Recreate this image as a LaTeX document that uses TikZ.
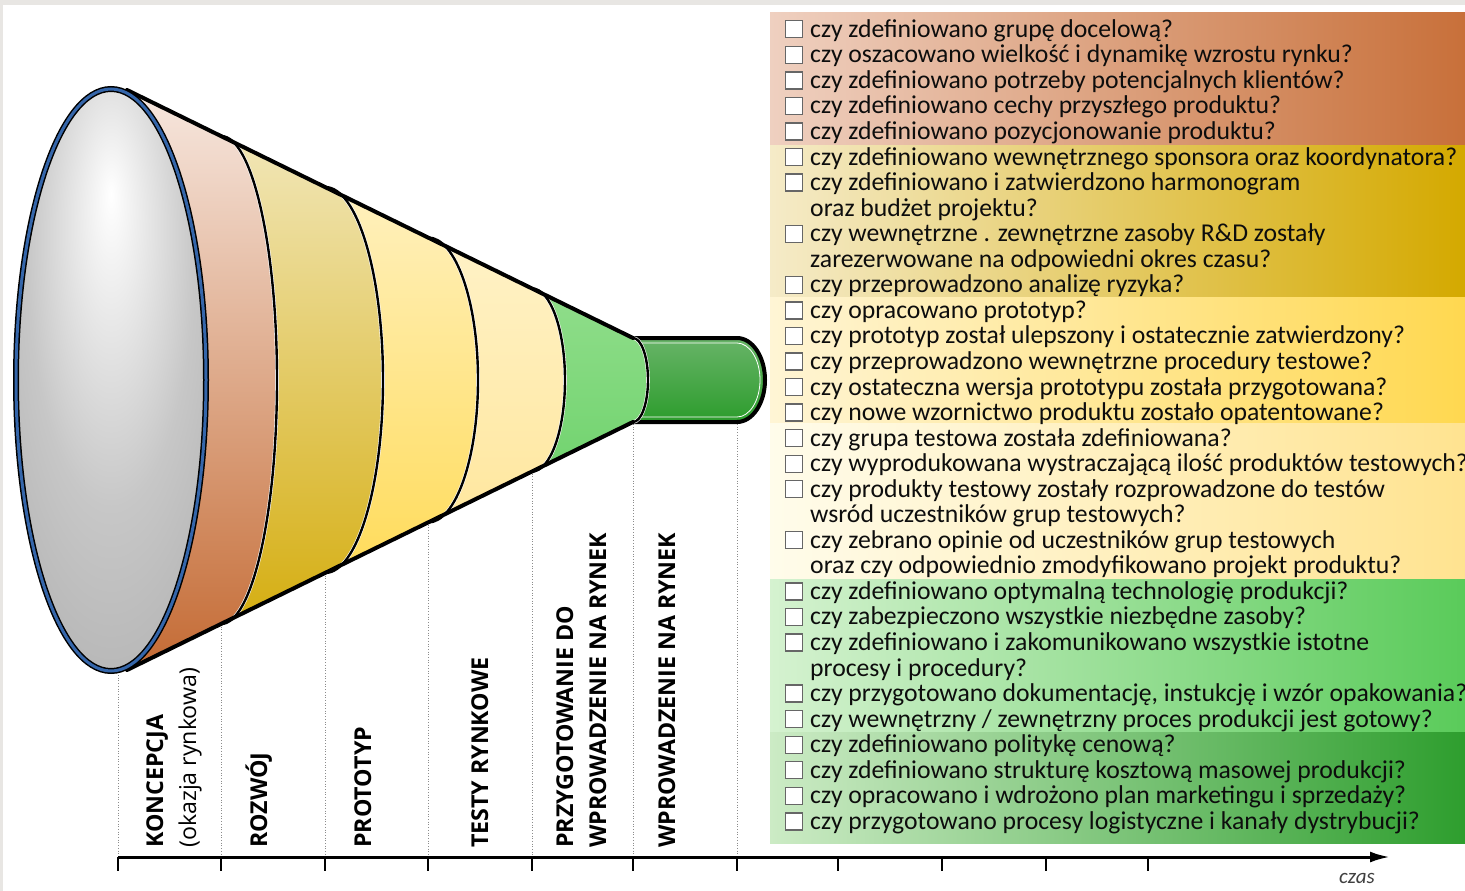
\documentclass[tikz,border=0pt]{standalone}
\usepackage{fontspec}
\setmainfont{Carlito}
\newfontfamily\stagefont{Open Sans}
\usetikzlibrary{arrows.meta}

\definecolor{frame}{HTML}{E8E6E3}
\definecolor{ringblue}{HTML}{3566AA}
\definecolor{peachtop}{HTML}{F7E8E0}
\definecolor{peachbot}{HTML}{C46A33}
\definecolor{goldtop}{HTML}{F4ECC8}
\definecolor{goldbot}{HTML}{D2A800}
\definecolor{yellowtop}{HTML}{FFF6D8}
\definecolor{yellowbot}{HTML}{FFD640}
\definecolor{palretop}{HTML}{FFF8DC}
\definecolor{palebot}{HTML}{FFE189}
\definecolor{greentop}{HTML}{B2E9AA}
\definecolor{greenbot}{HTML}{50C850}
\definecolor{pipetop}{HTML}{68B468}
\definecolor{pipebot}{HTML}{2C9C2C}
\definecolor{sAl}{HTML}{EFD0C0}
\definecolor{sAr}{HTML}{C8703A}
\definecolor{sBl}{HTML}{F5EBC8}
\definecolor{sBr}{HTML}{D4A900}
\definecolor{sCl}{HTML}{FFF5D5}
\definecolor{sCr}{HTML}{FFD850}
\definecolor{sDl}{HTML}{FFFCEB}
\definecolor{sDr}{HTML}{FFE390}
\definecolor{sEl}{HTML}{D5F2D0}
\definecolor{sEr}{HTML}{5ACB5A}
\definecolor{sFl}{HTML}{CCEBC5}
\definecolor{sFr}{HTML}{2E9E2E}

\pgfdeclareradialshading{lens}{\pgfpoint{0bp}{16bp}}{color(0bp)=(white); color(22bp)=(black!22); color(42bp)=(black!32); color(70bp)=(black!45)}

\begin{document}
\begin{tikzpicture}[x=1pt, y=-1pt]
    % Define styles
    \tikzset{
        row/.style={
            anchor=base west,
            inner sep=0pt,
            text=black!95,
            font=\fontsize{25.7}{25.7}\selectfont
        },
        chk/.style={
            draw=black!60,
            fill=white,
            line width=1.3pt,
            minimum size=17pt,
            inner sep=0pt
        },
        stage/.style={
            rotate=90,
            anchor=base west,
            inner sep=0pt,
            font=\stagefont\bfseries\fontsize{23.2}{28}\selectfont
        },
        note/.style={
            stage,
            font=\stagefont\fontsize{23.2}{28}\selectfont
        },
        guide/.style={
            black!45,
            line width=0.7pt,
            dotted
        },
        rim/.style={
            line width=2.4pt
        },
        outline/.style={
            line width=4pt,
            line cap=round
        }
    }

    % Frame and page
    \fill[white] (0,0) rectangle (1465,891);
    \useasboundingbox (0,0) rectangle (1465,891);
    \fill[frame] (0,0) rectangle (1465,5);
    \fill[frame] (0,0) rectangle (3,891);

    % Checklist background
    \foreach \ya/\yb/\cl/\cr in {13/145/sAl/sAr, 145/297/sBl/sBr, 297/423/sCl/sCr, 423/579/sDl/sDr, 579/732/sEl/sEr, 732/843/sFl/sFr}
        \shade[left color=\cl, right color=\cr] (770,\ya) rectangle (1465,\yb);

    % Checklist rows
    \foreach \n/\b/\txt in {
        0/1/{czy zdefiniowano grupę docelową?},
        1/1/{czy oszacowano wielkość i dynamikę wzrostu rynku?},
        2/1/{czy zdefiniowano potrzeby potencjalnych klientów?},
        3/1/{czy zdefiniowano cechy przyszłego produktu?},
        4/1/{czy zdefiniowano pozycjonowanie produktu?},
        5/1/{czy zdefiniowano wewnętrznego sponsora oraz koordynatora?},
        6/1/{czy zdefiniowano i zatwierdzono harmonogram},
        7/0/{oraz budżet projektu?},
        8/1/{czy wewnętrzne . zewnętrzne zasoby R\&D zostały},
        9/0/{zarezerwowane na odpowiedni okres czasu?},
        10/1/{czy przeprowadzono analizę ryzyka?},
        11/1/{czy opracowano prototyp?},
        12/1/{czy prototyp został ulepszony i ostatecznie zatwierdzony?},
        13/1/{czy przeprowadzono wewnętrzne procedury testowe?},
        14/1/{czy ostateczna wersja prototypu została przygotowana?},
        15/1/{czy nowe wzornictwo produktu zostało opatentowane?},
        16/1/{czy grupa testowa została zdefiniowana?},
        17/1/{czy wyprodukowana wystraczającą ilość produktów testowych?},
        18/1/{czy produkty testowy zostały rozprowadzone do testów},
        19/0/{wsród uczestników grup testowych?},
        20/1/{czy zebrano opinie od uczestników grup testowych},
        21/0/{oraz czy odpowiednio zmodyfikowano projekt produktu?},
        22/1/{czy zdefiniowano optymalną technologię produkcji?},
        23/1/{czy zabezpieczono wszystkie niezbędne zasoby?},
        24/1/{czy zdefiniowano i zakomunikowano wszystkie istotne},
        25/0/{procesy i procedury?},
        26/1/{czy przygotowano dokumentację, instukcję i wzór opakowania?},
        27/1/{czy wewnętrzny / zewnętrzny proces produkcji jest gotowy?},
        28/1/{czy zdefiniowano politykę cenową?},
        29/1/{czy zdefiniowano strukturę kosztową masowej produkcji?},
        30/1/{czy opracowano i wdrożono plan marketingu i sprzedaży?},
        31/1/{czy przygotowano procesy logistyczne i kanały dystrybucji?}}
    {
        \node[row] (row\n) at (810,37.3+25.55*\n) {\txt};
        \ifnum\b=1 \node[chk] (chk\n) at (794,29.3+25.55*\n) {};\fi
    }

    % Dotted guides
    \foreach \x/\y in {118/675, 221/624, 325/573, 428/522, 532/471, 633/424, 737/424}
        \draw[guide] (\x,\y) -- (\x,857);

    % Pipe
    \shade[top color=pipetop, bottom color=pipebot] (633,338) -- (737,338) arc[start angle=-90, end angle=90, x radius=28, y radius=42] -- (633,422) -- cycle;
    \draw[white, line width=0.8pt] (640,343) -- (737,343) arc[start angle=-90, end angle=90, x radius=23, y radius=37] -- (640,417);
    \draw[outline] (633,338) -- (737,338) arc[start angle=-90, end angle=90, x radius=28, y radius=42] -- (633,422);

    % Funnel bands, right to left
    \foreach \xk/\ryk/\rxk/\ctop/\cbot in {633/42/15/greentop/greenbot, 532/91.5/33/palretop/palebot, 428/142.5/50/yellowtop/yellowbot, 325/193/58/goldtop/goldbot, 221/244/56/peachtop/peachbot}
        \shade[top color=\ctop, bottom color=\cbot] (127,90) -- (\xk,380-\ryk) arc[start angle=-90, end angle=90, x radius=\rxk, y radius=\ryk] -- (127,670) -- (111,673) -- (111,87) -- cycle;

    % Band borders
    \foreach \xk/\ryk/\rxk in {633/42/15, 532/91.5/33, 428/142.5/50, 325/193/58, 221/244/56} {
        \draw[white, line width=3.6pt] (\xk,380-\ryk) arc[start angle=-90, end angle=90, x radius=\rxk, y radius=\ryk];
        \draw[rim] (\xk,380-\ryk) arc[start angle=-90, end angle=90, x radius=\rxk, y radius=\ryk];
    }

    % Funnel outline
    \draw[outline] (127,90) -- (633,338);
    \draw[outline] (127,670) -- (633,422);

    % Mouth of the funnel
    \shade[shading=lens] (111,380) ellipse[x radius=95, y radius=291];
    \draw[line width=6pt] (111,380) ellipse[x radius=95, y radius=291];
    \draw[ringblue, line width=3pt] (111,380) ellipse[x radius=95, y radius=291];

    % Stage labels
    \node[stage] (koncepcja) at (163,848) {KONCEPCJA};
    \node[note] (okazja) at (196,848) {(okazja rynkowa)};
    \node[stage] (rozwoj) at (267,848) {ROZWÓJ};
    \node[stage] (prototyp) at (371,848) {PROTOTYP};
    \node[stage] (testy) at (488,848) {TESTY RYNKOWE};
    \node[stage] (przygotowanie) at (573,848) {PRZYGOTOWANIE DO};
    \node[stage] (przygotowanieB) at (606,848) {WPROWADZENIE NA RYNEK};
    \node[stage] (wprowadzenie) at (675,848) {WPROWADZENIE NA RYNEK};

    % Time axis
    \coordinate (axisL) at (118,857);
    \coordinate (axisR) at (1390,857);
    \foreach \x in {118,221,325,428,532,633,737,838,942,1046,1148}
        \draw[line width=1.2pt] (\x,857) -- (\x,871);
    \draw[line width=3pt, -{Latex[length=20pt, width=11pt]}] (axisL) -- (axisR);
    \node[font=\itshape\fontsize{21}{21}\selectfont, text=black!75, anchor=base] (czas) at (1357,883) {czas};

\end{tikzpicture}
\end{document}
